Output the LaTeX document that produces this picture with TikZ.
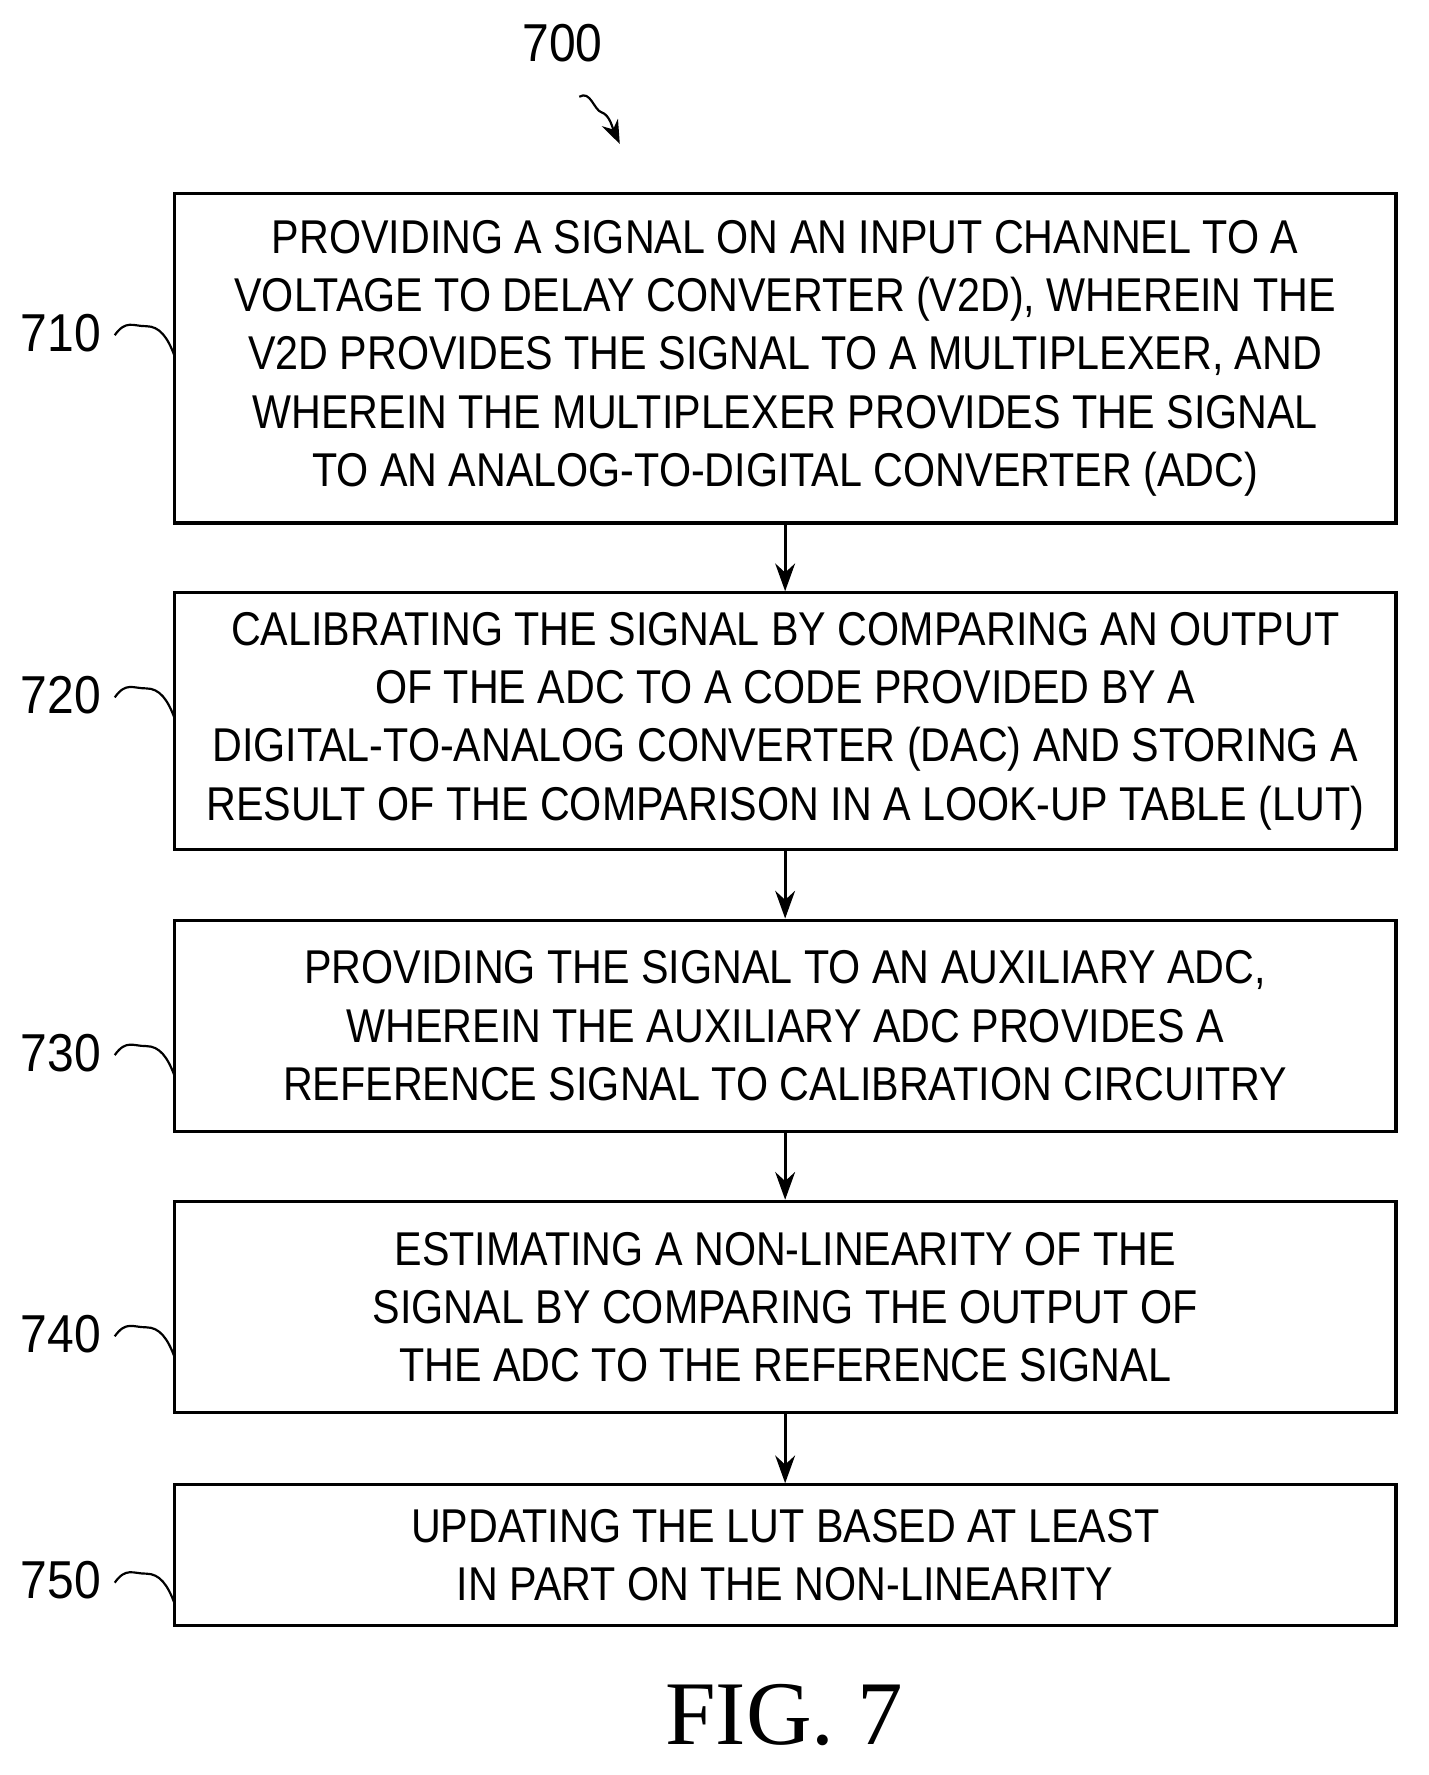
\documentclass[tikz,border=0pt]{standalone}
\usepackage{fontspec}
\setmainfont{Liberation Sans}[FakeStretch=0.87]
\newfontfamily\figfont{Liberation Serif}
\usetikzlibrary{arrows.meta}
\begin{document}
\begin{tikzpicture}[x=0.02cm,y=-0.02cm,
  box/.style={draw,line width=1.6pt,inner sep=0pt,font=\fontsize{24}{29.5}\selectfont,align=center},
  lab/.style={font=\fontsize{27}{30}\selectfont\addfontfeature{FakeStretch=0.9}},
  arr/.style={line width=1.6pt,-{Stealth[length=14pt,width=10pt]}},
  sq/.style={line width=1.1pt}]
\useasboundingbox (0,0) rectangle (1270,1578);
\node[box,minimum width=1086*0.02cm,minimum height=293*0.02cm] (b1) at (698,318.5) {PROVIDING A SIGNAL ON AN INPUT CHANNEL TO A\\VOLTAGE TO DELAY CONVERTER (V2D), WHEREIN THE\\V2D PROVIDES THE SIGNAL TO A MULTIPLEXER, AND\\WHEREIN THE MULTIPLEXER PROVIDES THE SIGNAL\\TO AN ANALOG-TO-DIGITAL CONVERTER (ADC)};
\node[box,minimum width=1086*0.02cm,minimum height=228*0.02cm] (b2) at (698,641) {CALIBRATING THE SIGNAL BY COMPARING AN OUTPUT\\OF THE ADC TO A CODE PROVIDED BY A\\DIGITAL-TO-ANALOG CONVERTER (DAC) AND STORING A\\RESULT OF THE COMPARISON IN A LOOK-UP TABLE (LUT)};
\node[box,minimum width=1086*0.02cm,minimum height=188*0.02cm] (b3) at (698,912) {PROVIDING THE SIGNAL TO AN AUXILIARY ADC,\\WHEREIN THE AUXILIARY ADC PROVIDES A\\REFERENCE SIGNAL TO CALIBRATION CIRCUITRY};
\node[box,minimum width=1086*0.02cm,minimum height=188*0.02cm] (b4) at (698,1162) {ESTIMATING A NON-LINEARITY OF THE\\SIGNAL BY COMPARING THE OUTPUT OF\\THE ADC TO THE REFERENCE SIGNAL};
\node[box,minimum width=1086*0.02cm,minimum height=125*0.02cm] (b5) at (698,1382.5) {UPDATING THE LUT BASED AT LEAST\\IN PART ON THE NON-LINEARITY};
\draw[arr] (b1) -- (b2);
\draw[arr] (b2) -- (b3);
\draw[arr] (b3) -- (b4);
\draw[arr] (b4) -- (b5);
\foreach \n/\y in {710/296,720/618,730/936,740/1186,750/1405}{
  \node[lab,anchor=east] (l\n) at (96,\y) {\n};
  \draw[sq] (l\n.east) ++(6,2) .. controls +(10,-14) and +(-12,0) .. ++(28,-8) .. controls +(12,0) and +(-6,-16) .. (155,\y+20);
}
\node[lab] (l700) at (500,38) {700};
\coordinate (t700) at (551,128);
\draw[sq,-{Stealth[length=12pt,width=9pt]}] (515,86) .. controls (525,80) and (528,98) .. (535,100) .. controls (542,102) and (545,115) .. (t700);
\node[font=\figfont\fontsize{46}{50}\selectfont] (fig) at (697,1525) {FIG. 7};
\end{tikzpicture}
\end{document}
